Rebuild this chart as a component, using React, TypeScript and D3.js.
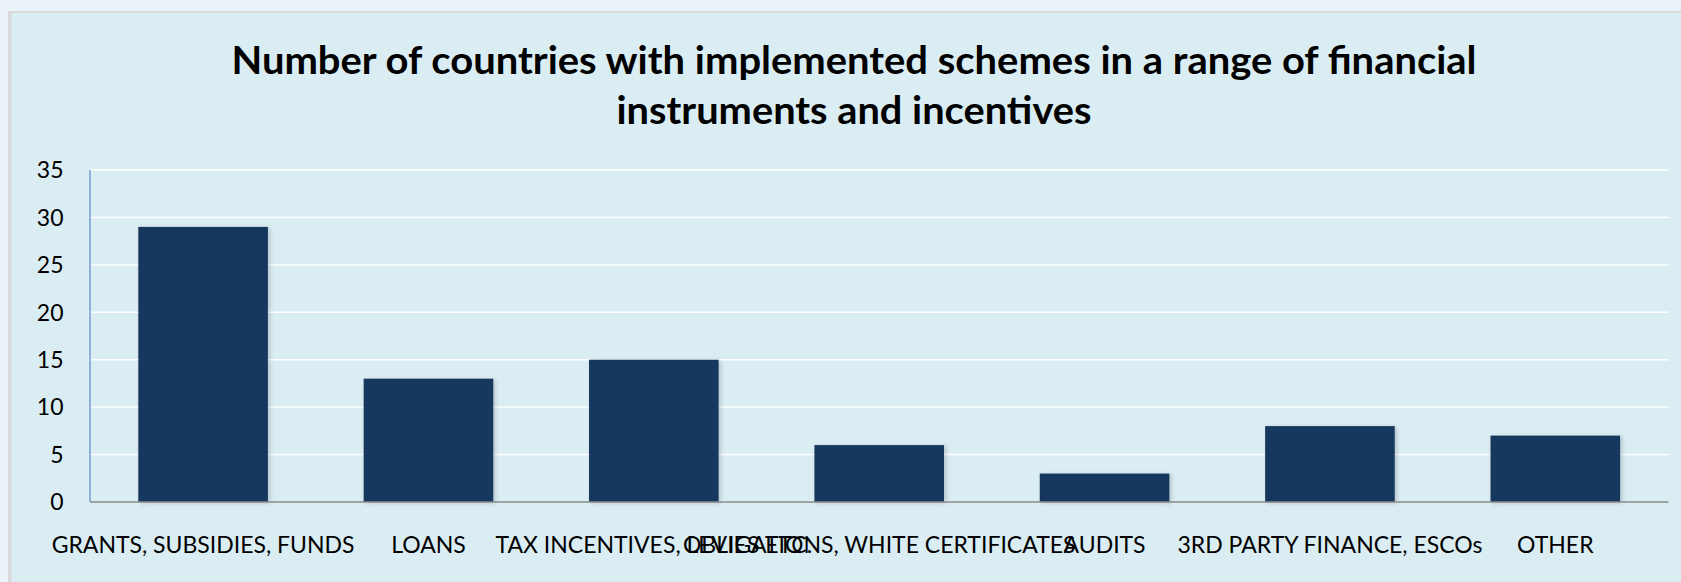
import React from 'react';
import * as d3 from 'd3';

const categories = [
  'GRANTS, SUBSIDIES, FUNDS',
  'LOANS',
  'TAX INCENTIVES, LEVIES ETC.',
  'OBLIGATIONS, WHITE CERTIFICATES',
  'AUDITS',
  '3RD PARTY FINANCE, ESCOs',
  'OTHER',
];
const values = [29, 13, 15, 6, 3, 8, 7];
const yTicks = [0, 5, 10, 15, 20, 25, 30, 35];
const titleLines = [
  'Number of countries with implemented schemes in a range of financial',
  'instruments and incentives',
];

const W = 1681;
const H = 582;
const FONT = 'Lato, "Open Sans", sans-serif';
const TITLE_WIDTHS = [1245, 475];

export default function App() {
  const x = d3
    .scaleBand<string>()
    .domain(categories)
    .range([90.4, 1668])
    .paddingInner(0.425)
    .paddingOuter(0.2125);
  const y = d3.scaleLinear().domain([0, 35]).range([502, 170]);

  return (
    <svg
      width={W}
      height={H}
      style={{ position: 'absolute', left: 0, top: 0, display: 'block' }}
    >
      <defs>
        <filter id="shadow" x="-10%" y="-10%" width="130%" height="130%">
          <feDropShadow dx="2" dy="1" stdDeviation="2" floodColor="#000" floodOpacity="0.18" />
        </filter>
      </defs>
      <rect x={0} y={0} width={W} height={H} fill="#EBF3FA" />
      <rect x={8} y={11} width={W} height={H} fill="#D9D9D9" />
      <rect x={11.5} y={13} width={W} height={H} fill="#DAEDF3" />

      {titleLines.map((t, i) => (
        <text
          key={i}
          x={854}
          y={73.5 + i * 50}
          textAnchor="middle"
          fontFamily={FONT}
          fontWeight={700}
          fontSize={39}
          textLength={TITLE_WIDTHS[i]}
          lengthAdjust="spacingAndGlyphs"
          fill="#000"
        >
          {t}
        </text>
      ))}

      {yTicks
        .filter((t) => t !== 0)
        .map((t) => (
          <line
            key={'g' + t}
            x1={90}
            x2={1668.5}
            y1={y(t)}
            y2={y(t)}
            stroke="#FFFFFF"
            strokeWidth={1.4}
          />
        ))}

      {categories.map((c, i) => (
        <rect
          key={c}
          x={x(c)}
          y={y(values[i])}
          width={x.bandwidth()}
          height={y(0) - y(values[i])}
          fill="#17375E"
          filter="url(#shadow)"
        />
      ))}

      <line x1={90} x2={90} y1={y(35)} y2={y(0)} stroke="#5B8BD0" strokeWidth={1.2} />
      <line x1={90} x2={1668.5} y1={y(0)} y2={y(0)} stroke="#8A8A8A" strokeWidth={1.6} />

      {yTicks.map((t) => (
        <text
          key={'t' + t}
          x={63.5}
          y={y(t)}
          dy="0.36em"
          textAnchor="end"
          fontFamily={FONT}
          fontSize={23}
          fill="#000"
        >
          {t}
        </text>
      ))}

      {categories.map((c) => (
        <text
          key={'l' + c}
          x={(x(c) as number) + x.bandwidth() / 2}
          y={552.5}
          textAnchor="middle"
          fontFamily={FONT}
          fontSize={23}
          fill="#000"
        >
          {c}
        </text>
      ))}
    </svg>
  );
}
